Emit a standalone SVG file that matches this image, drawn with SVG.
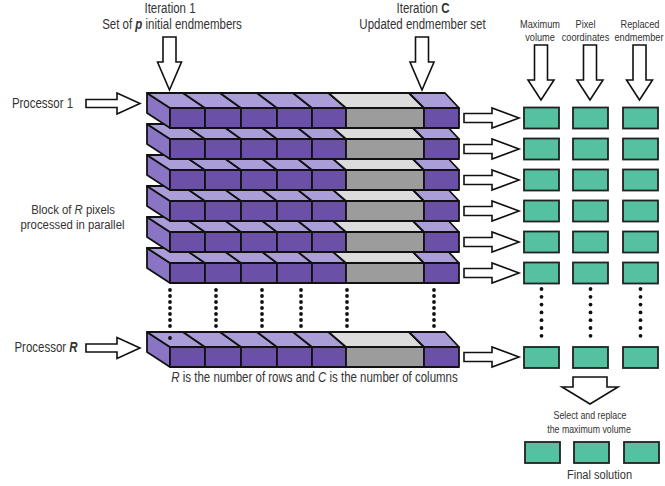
<svg xmlns="http://www.w3.org/2000/svg" xmlns:xlink="http://www.w3.org/1999/xlink" width="665" height="486" viewBox="0 0 665 486">
<style>
.f{fill:#6a50a6}
.t{fill:#ab9dd8}
.s{fill:#8a75c4}
.gf{fill:#9c9c9c}
.gt{fill:#dcdcdc}
.row *{stroke:#111;stroke-width:1.8;stroke-linejoin:round}
.gb{fill:#55c1a0;stroke:#222;stroke-width:1.8}
.ar{fill:#fff;stroke:#111;stroke-width:1.6;stroke-linejoin:miter}
.tx{font-family:"Liberation Sans",Arial,sans-serif;fill:#333;font-size:14px;text-anchor:middle}
.sm{font-size:11.5px}
.xs{font-size:11px}
.dot{fill:#111}
</style>
<defs>
<g id="rowshape" class="row">
<polygon class="s" points="147,-15 170,0 170,20 147,5"/>
<polygon class="t" points="147,-15 183,-15 205,0 170,0"/>
<polygon class="t" points="183,-15 220,-15 241,0 205,0"/>
<polygon class="t" points="220,-15 257,-15 277,0 241,0"/>
<polygon class="t" points="257,-15 293,-15 312,0 277,0"/>
<polygon class="t" points="293,-15 328.5,-15 346,0 312,0"/>
<polygon class="gt" points="328.5,-15 409,-15 424,0 346,0"/>
<polygon class="t" points="409,-15 445,-15 459,0 424,0"/>
<rect class="f" x="170" y="0" width="35" height="20"/>
<rect class="f" x="205" y="0" width="36" height="20"/>
<rect class="f" x="241" y="0" width="36" height="20"/>
<rect class="f" x="277" y="0" width="35" height="20"/>
<rect class="f" x="312" y="0" width="34" height="20"/>
<rect class="gf" x="346" y="0" width="78" height="20"/>
<rect class="f" x="424" y="0" width="35" height="20"/>
</g>
<path id="rarrow" class="ar" d="M464,-4.5 H492 V-10 L519,0 L492,10 V4.5 H464 Z"/>
<path id="darrow" class="ar" d="M-6.5,0 H6.5 V25 H12 L0,53 L-12,25 H-6.5 Z"/>
<path id="darrow2" class="ar" d="M-6.5,0 H6.5 V35 H13 L0,55 L-13,35 H-6.5 Z"/>
<path id="larrow" class="ar" d="M86,-4 H117 V-10.5 L140,0 L117,10.5 V4 H86 Z"/>
<g id="greenrow">
<rect class="gb" x="524" y="0" width="35" height="21"/>
<rect class="gb" x="573" y="0" width="35" height="21"/>
<rect class="gb" x="623" y="0" width="35" height="21"/>
</g>
<g id="vdots">
<circle class="dot" cx="0" cy="0" r="1.9"/>
<circle class="dot" cx="0" cy="6" r="1.9"/>
<circle class="dot" cx="0" cy="12" r="1.9"/>
<circle class="dot" cx="0" cy="18" r="1.9"/>
<circle class="dot" cx="0" cy="24" r="1.9"/>
<circle class="dot" cx="0" cy="30" r="1.9"/>
<circle class="dot" cx="0" cy="36" r="1.9"/>
</g>
<g id="vdots2">
<circle class="dot" cx="0" cy="0" r="1.9"/>
<circle class="dot" cx="0" cy="7.8" r="1.9"/>
<circle class="dot" cx="0" cy="15.6" r="1.9"/>
<circle class="dot" cx="0" cy="23.4" r="1.9"/>
<circle class="dot" cx="0" cy="31.2" r="1.9"/>
<circle class="dot" cx="0" cy="39" r="1.9"/>
<circle class="dot" cx="0" cy="46.8" r="1.9"/>
</g>
</defs>
<rect width="665" height="486" fill="#fff"/>

<g id="row6"><use xlink:href="#rowshape" y="263"/></g>
<g id="row5"><use xlink:href="#rowshape" y="232"/></g>
<g id="row4"><use xlink:href="#rowshape" y="201"/></g>
<g id="row3"><use xlink:href="#rowshape" y="170"/></g>
<g id="row2"><use xlink:href="#rowshape" y="139"/></g>
<g id="row1"><use xlink:href="#rowshape" y="108"/></g>
<g id="rowR"><use xlink:href="#rowshape" y="347"/></g>

<g id="dots">
<use xlink:href="#vdots" x="170" y="290"/>
<circle class="dot" cx="170" cy="338" r="1.9"/>
<use xlink:href="#vdots" x="216" y="290"/>
<use xlink:href="#vdots" x="262" y="290"/>
<use xlink:href="#vdots" x="301" y="290"/>
<use xlink:href="#vdots" x="347" y="290"/>
<use xlink:href="#vdots" x="434" y="290"/>
<use xlink:href="#vdots2" x="541.5" y="289"/>
<use xlink:href="#vdots2" x="590.5" y="289"/>
<use xlink:href="#vdots2" x="640.5" y="289"/>
</g>

<g id="results">
<use xlink:href="#greenrow" y="107.5"/>
<use xlink:href="#greenrow" y="138.5"/>
<use xlink:href="#greenrow" y="169.5"/>
<use xlink:href="#greenrow" y="200.5"/>
<use xlink:href="#greenrow" y="231.5"/>
<use xlink:href="#greenrow" y="262.5"/>
<use xlink:href="#greenrow" y="347"/>
</g>
<g id="final"><use xlink:href="#greenrow" y="442" x="1"/></g>

<g id="connectors">
<use xlink:href="#rarrow" y="118"/>
<use xlink:href="#rarrow" y="149"/>
<use xlink:href="#rarrow" y="180"/>
<use xlink:href="#rarrow" y="211"/>
<use xlink:href="#rarrow" y="242"/>
<use xlink:href="#rarrow" y="273"/>
<use xlink:href="#rarrow" y="357"/>
<use xlink:href="#larrow" y="103.5"/>
<use xlink:href="#larrow" y="348"/>
<use xlink:href="#darrow" x="169.5" y="37"/>
<use xlink:href="#darrow" x="422" y="37"/>
<use xlink:href="#darrow2" x="541" y="45"/>
<use xlink:href="#darrow2" x="590" y="45"/>
<use xlink:href="#darrow2" x="639.5" y="45"/>
<path class="ar" d="M573,377 H607 V387 H618 L590,404 L562,387 H573 Z"/>
</g>

<g id="labels">
<text class="tx" transform="translate(170,13) scale(0.82,1)">Iteration 1</text>
<text class="tx" transform="translate(172,29) scale(0.82,1)">Set of <tspan font-weight="bold" font-style="italic">p</tspan> initial endmembers</text>
<text class="tx" transform="translate(423,13) scale(0.82,1)">Iteration <tspan font-weight="bold">C</tspan></text>
<text class="tx" transform="translate(422.5,29) scale(0.82,1)">Updated endmember set</text>
<text class="tx sm" transform="translate(540,28) scale(0.8,1)">Maximum</text>
<text class="tx sm" transform="translate(540,41) scale(0.8,1)">volume</text>
<text class="tx sm" transform="translate(585.5,28) scale(0.8,1)">Pixel</text>
<text class="tx sm" transform="translate(585.5,41) scale(0.8,1)">coordinates</text>
<text class="tx sm" transform="translate(640,28) scale(0.8,1)">Replaced</text>
<text class="tx sm" transform="translate(639,41) scale(0.8,1)">endmember</text>
<text class="tx" transform="translate(42.5,108) scale(0.82,1)">Processor 1</text>
<text class="tx" transform="translate(46,352) scale(0.82,1)">Processor <tspan font-weight="bold" font-style="italic">R</tspan></text>
<text class="tx" transform="translate(73,214) scale(0.84,1)" style="font-size:13.5px">Block of <tspan font-style="italic">R</tspan> pixels</text>
<text class="tx" transform="translate(72.5,229) scale(0.84,1)" style="font-size:13.5px">processed in parallel</text>
<text class="tx" transform="translate(314.5,382) scale(0.82,1)"><tspan font-style="italic">R</tspan> is the number of rows and <tspan font-style="italic">C</tspan> is the number of columns</text>
<text class="tx xs" transform="translate(590,419) scale(0.8,1)">Select and replace</text>
<text class="tx xs" transform="translate(589,433) scale(0.8,1)">the maximum volume</text>
<text class="tx" transform="translate(599.5,479) scale(0.82,1)" style="font-size:13.5px">Final solution</text>
</g>
</svg>
